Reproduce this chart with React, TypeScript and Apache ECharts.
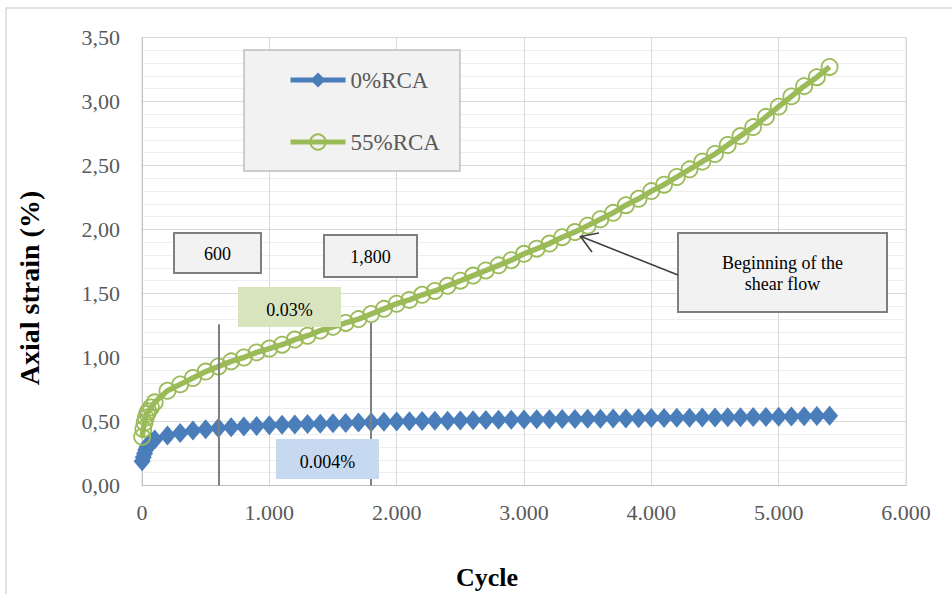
import React, { useEffect, useRef } from 'react';
import * as echarts from 'echarts';

const cycles = [
  1, 10, 20, 30, 40, 50, 70, 100, 200, 300, 400, 500, 600, 700, 800, 900,
  1000, 1100, 1200, 1300, 1400, 1500, 1600, 1700, 1800, 1900,
  2000, 2100, 2200, 2300, 2400, 2500, 2600, 2700, 2800, 2900,
  3000, 3100, 3200, 3300, 3400, 3500, 3600, 3700, 3800, 3900,
  4000, 4100, 4200, 4300, 4400, 4500, 4600, 4700, 4800, 4900,
  5000, 5100, 5200, 5300, 5400,
];

const rca0 = [
  0.19, 0.22, 0.25, 0.28, 0.30, 0.32, 0.34, 0.36, 0.39, 0.41, 0.43, 0.44, 0.45, 0.455, 0.46, 0.465,
  0.47, 0.474, 0.477, 0.48, 0.483, 0.486, 0.489, 0.492, 0.495, 0.498,
  0.50, 0.502, 0.503, 0.505, 0.506, 0.508, 0.51, 0.511, 0.513, 0.514,
  0.516, 0.517, 0.518, 0.519, 0.52, 0.521, 0.522, 0.523, 0.524, 0.525,
  0.527, 0.528, 0.529, 0.53, 0.531, 0.532, 0.533, 0.534, 0.535, 0.536,
  0.537, 0.539, 0.541, 0.543, 0.545,
];

const rca55 = [
  0.38, 0.44, 0.49, 0.53, 0.56, 0.58, 0.61, 0.65, 0.74, 0.79, 0.84, 0.89, 0.93, 0.97, 1.0, 1.04,
  1.07, 1.1, 1.14, 1.17, 1.21, 1.24, 1.27, 1.3, 1.34, 1.38,
  1.42, 1.45, 1.49, 1.52, 1.56, 1.6, 1.64, 1.68, 1.72, 1.76,
  1.81, 1.85, 1.89, 1.94, 1.98, 2.03, 2.08, 2.13, 2.19, 2.24,
  2.3, 2.35, 2.41, 2.47, 2.53, 2.59, 2.66, 2.73, 2.8, 2.88,
  2.96, 3.04, 3.12, 3.19, 3.27,
];

const seriesNames = ['0%RCA', '55%RCA'];
const markerCycles = [600, 1800];
const markerTops = [1.26, 1.27];

const FONT = '"Liberation Serif", "Times New Roman", serif';
const BLUE = '#4a7ebb';
const GREEN = '#9bbb59';

export default function App() {
  const ref = useRef<HTMLDivElement>(null);

  useEffect(() => {
    if (!ref.current) return;
    const chart = echarts.init(ref.current, null, { renderer: 'svg' });

    const boxText = (text: string, x: number, y: number) => ({
      type: 'text',
      x,
      y,
      z: 101,
      style: {
        text,
        align: 'center',
        verticalAlign: 'middle',
        fontFamily: FONT,
        fontSize: 18,
        fill: '#000000',
      },
    });

    const option: any = {
      animation: false,
      backgroundColor: '#ffffff',
      grid: {
        left: 142,
        top: 37.5,
        right: 46,
        bottom: 108.5,
        show: true,
        borderColor: '#d9d9d9',
        borderWidth: 1,
      },
      legend: {
        data: [
          { name: seriesNames[0], lineStyle: { width: 5 } },
          { name: seriesNames[1], lineStyle: { width: 5 } },
        ],
        left: 244,
        top: 50,
        orient: 'vertical',
        padding: [18, 20, 17, 44],
        itemWidth: 55,
        itemHeight: 19,
        itemGap: 38,
        backgroundColor: '#f2f2f2',
        borderColor: '#bfbfbf',
        borderWidth: 1.5,
        textStyle: { fontFamily: FONT, fontSize: 23, color: '#595959', lineHeight: 24 },
      },
      xAxis: {
        type: 'value',
        min: 0,
        max: 6000,
        interval: 1000,
        axisLine: { show: true, lineStyle: { color: '#bfbfbf', width: 1 } },
        axisTick: { show: false },
        splitLine: { show: true, lineStyle: { color: '#d9d9d9', width: 1 } },
        axisLabel: {
          margin: 16,
          fontFamily: FONT,
          fontSize: 22,
          color: '#595959',
          formatter: (v: number) => (v === 0 ? '0' : `${v / 1000}.000`),
        },
      },
      yAxis: {
        type: 'value',
        min: 0,
        max: 3.5,
        interval: 0.5,
        axisLine: { show: true, lineStyle: { color: '#bfbfbf', width: 1 } },
        axisTick: { show: false },
        minorTick: { show: false, splitNumber: 5 },
        splitLine: { show: true, lineStyle: { color: '#d9d9d9', width: 1 } },
        minorSplitLine: { show: true, lineStyle: { color: '#eeeeee', width: 1 } },
        axisLabel: {
          margin: 22,
          fontFamily: FONT,
          fontSize: 22,
          color: '#595959',
          formatter: (v: number) => v.toFixed(2).replace('.', ','),
        },
      },
      series: [
        {
          name: seriesNames[0],
          type: 'line',
          data: cycles.map((c, i) => [c, rca0[i]]),
          symbol: 'diamond',
          symbolSize: [17, 20],
          itemStyle: { color: BLUE },
          lineStyle: { color: BLUE, width: 5 },
          z: 2,
          markLine: {
            silent: true,
            symbol: ['none', 'none'],
            label: { show: false },
            lineStyle: { color: '#7f7f7f', width: 2, type: 'solid' },
            data: markerCycles.map((c, i) => [{ coord: [c, markerTops[i]] }, { coord: [c, 0] }]),
          },
        },
        {
          name: seriesNames[1],
          type: 'line',
          data: cycles.map((c, i) => [c, rca55[i]]),
          symbol: 'circle',
          symbolSize: 16,
          itemStyle: { color: 'rgba(255,255,255,0)', borderColor: GREEN, borderWidth: 1.8 },
          lineStyle: { color: GREEN, width: 5.5 },
          z: 3,
        },
      ],
      graphic: [
        {
          type: 'rect',
          z: -10,
          shape: { x: 6, y: 8, width: 1200, height: 1200 },
          style: { fill: 'none', stroke: '#d9d9d9', lineWidth: 1.5 },
        },
        {
          type: 'text',
          x: 29,
          y: 288,
          rotation: Math.PI / 2,
          style: {
            text: 'Axial strain (%)',
            align: 'center',
            verticalAlign: 'middle',
            fontFamily: FONT,
            fontSize: 28,
            fontWeight: 'bold',
            fill: '#000000',
          },
        },
        {
          type: 'text',
          x: 487,
          y: 577,
          style: {
            text: 'Cycle',
            align: 'center',
            verticalAlign: 'middle',
            fontFamily: FONT,
            fontSize: 26,
            fontWeight: 'bold',
            fill: '#000000',
          },
        },
        {
          type: 'rect',
          z: 100,
          shape: { x: 174, y: 233, width: 87, height: 40 },
          style: { fill: '#f2f2f2', stroke: '#7f7f7f', lineWidth: 2 },
        },
        boxText('600', 217.5, 254),
        {
          type: 'rect',
          z: 100,
          shape: { x: 324, y: 235, width: 93, height: 42 },
          style: { fill: '#f2f2f2', stroke: '#7f7f7f', lineWidth: 2 },
        },
        boxText('1,800', 370.5, 257),
        {
          type: 'rect',
          z: 100,
          shape: { x: 238, y: 287, width: 103, height: 40 },
          style: { fill: '#d7e4bd' },
        },
        boxText('0.03%', 289.5, 310),
        {
          type: 'rect',
          z: 100,
          shape: { x: 276, y: 439, width: 103, height: 40 },
          style: { fill: '#c6d9f1' },
        },
        boxText('0.004%', 327.5, 462),
        {
          type: 'rect',
          z: 100,
          shape: { x: 678, y: 233, width: 209, height: 79 },
          style: { fill: '#f2f2f2', stroke: '#7f7f7f', lineWidth: 2 },
        },
        boxText('Beginning of the', 782.5, 263),
        boxText('shear flow', 782.5, 284),
        {
          type: 'line',
          z: 100,
          shape: { x1: 678, y1: 275, x2: 581, y2: 236.5 },
          style: { stroke: '#404040', lineWidth: 1.6 },
        },
        {
          type: 'polyline',
          z: 100,
          shape: { points: [[599, 233], [580.5, 236.5], [592, 252]] },
          style: { stroke: '#404040', lineWidth: 1.6, fill: 'none' },
        },
      ],
    };

    chart.setOption(option);
    return () => chart.dispose();
  }, []);

  return (
    <div
      ref={ref}
      style={{ position: 'absolute', left: 0, top: 0, width: 952, height: 594, background: '#fff' }}
    />
  );
}
